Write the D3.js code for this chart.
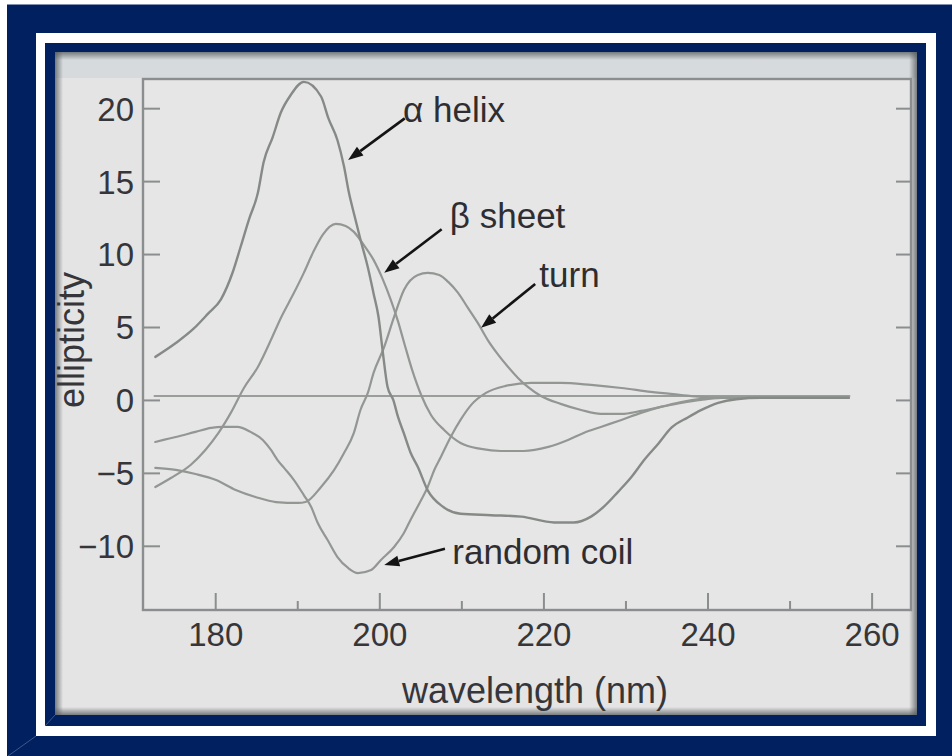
<!DOCTYPE html>
<html>
<head>
<meta charset="utf-8">
<script src="https://cdn.jsdelivr.net/npm/d3@7"></script>
<style>
  html, body { margin: 0; padding: 0; background: #ffffff; }
  svg { display: block; }
</style>
</head>
<body>
<svg id="chart" width="952" height="756"></svg>
<script>
// ---- data: circular dichroism spectra (wavelength nm, ellipticity) ----
const xTicks = [180, 200, 220, 240, 260];
const xMinorTicks = [190, 210, 230, 250];
const yTicks = [20, 15, 10, 5, 0, -5, -10];

const alphaHelix = [
  [172.7, 2.95], [175.2, 3.9], [177.4, 4.9], [179.1, 5.9], [180.7, 6.9], [182.1, 8.7],
  [183.1, 10.5], [184.1, 12.35], [185.2, 14.2], [185.9, 16.3], [187.0, 18.0], [188.0, 19.7],
  [189.2, 20.9], [190.8, 21.8], [192.9, 20.8], [193.8, 19.3], [194.9, 17.8], [195.7, 16.0],
  [196.3, 14.2], [196.9, 12.8], [197.7, 11.0], [198.6, 9.1], [199.3, 7.3], [199.9, 5.7],
  [200.4, 3.4], [201.0, 0.9], [201.7, 0], [202.3, -1.2], [203.0, -2.3], [203.8, -3.6],
  [204.7, -4.6], [205.9, -6.2], [207.7, -7.3], [209.9, -7.8], [213.6, -7.9], [217.3, -8.0],
  [221.3, -8.4], [223.7, -8.4], [225.8, -8.0], [227.4, -7.3], [229.1, -6.3], [230.7, -5.3],
  [232.3, -4.1], [234.0, -3.0], [235.6, -1.9], [237.6, -1.2], [239.2, -0.7], [241.3, -0.2],
  [243.5, 0.05], [246.5, 0.15], [257.2, 0.15]
];

const betaSheet = [
  [172.7, -5.97], [174.6, -5.35], [177.0, -4.46], [178.8, -3.43], [180.4, -2.26], [181.9, -0.89],
  [183.5, 0.82], [185.2, 2.26], [186.8, 4.12], [188.0, 5.62], [189.6, 7.34], [190.8, 8.71],
  [191.9, 10.08], [193.1, 11.32], [194.7, 12.07], [195.9, 11.93], [196.9, 11.52], [198.1, 10.63],
  [199.3, 9.6], [200.4, 8.3], [201.4, 6.86], [202.3, 5.35], [203.1, 3.77], [204.0, 2.06],
  [205.1, 0.34], [206.3, -1.03], [207.9, -2.06], [209.9, -2.95], [212.4, -3.36], [214.8, -3.5],
  [217.6, -3.5], [220.6, -3.22], [223.0, -2.74], [224.9, -2.26], [227.0, -1.85], [229.5, -1.37],
  [231.9, -0.89], [234.3, -0.48], [236.8, -0.14], [239.2, 0.07], [241.7, 0.14], [257.2, 0.14]
];

const turn = [
  [172.7, -4.66], [175.2, -4.8], [177.6, -5.08], [180.1, -5.49], [182.5, -6.17], [184.9, -6.65],
  [187.4, -7.0], [190.1, -7.06], [191.0, -7.0], [192.9, -5.97], [194.5, -4.8], [195.7, -3.64],
  [196.9, -2.26], [197.7, -0.69], [198.6, 0.48], [199.3, 1.85], [200.6, 3.64], [201.8, 5.69],
  [203.0, 7.54], [204.7, 8.57], [205.9, 8.71], [207.3, 8.57], [208.4, 8.09], [209.6, 7.34],
  [210.8, 6.31], [212.0, 5.28], [213.2, 4.12], [214.5, 3.09], [215.7, 2.26], [216.9, 1.51],
  [218.1, 0.89], [219.7, 0.27], [222.1, -0.27], [224.6, -0.69], [227.0, -0.96], [229.5, -0.96],
  [231.9, -0.75], [234.3, -0.48], [236.8, -0.21], [239.2, 0.0], [241.7, 0.14], [257.2, 0.14]
];

const randomCoil = [
  [172.7, -2.88], [173.7, -2.74], [175.2, -2.54], [177.6, -2.19], [179.5, -1.92], [180.9, -1.85],
  [182.7, -1.85], [184.3, -2.19], [185.8, -2.74], [186.8, -3.43], [187.6, -4.12], [188.4, -4.66],
  [189.6, -5.49], [190.8, -6.52], [191.7, -7.34], [192.5, -8.44], [193.7, -9.6], [194.9, -10.77],
  [196.2, -11.52], [197.4, -11.87], [199.0, -11.66], [200.2, -10.97], [201.8, -10.08], [203.0, -9.12],
  [203.8, -8.23], [205.1, -6.86], [205.9, -5.97], [206.7, -4.8], [207.5, -3.91], [208.7, -2.54],
  [209.9, -1.37], [211.2, -0.34], [213.0, 0.48], [215.4, 0.96], [218.5, 1.17], [222.1, 1.17],
  [225.8, 1.03], [229.5, 0.82], [233.1, 0.55], [236.8, 0.34], [239.2, 0.21], [241.7, 0.14], [257.2, 0.14]
];

const baseline = [[172.6, 0.27], [257.3, 0.27]];

// label text, where it sits (wavelength, ellipticity) and where its arrow points
const annotations = [
  { text: "α helix",     at: [202.9, 19.06],  tail: [203.1, 19.3],  tip: [196.2, 16.45] },
  { text: "β sheet",     at: [208.6, 11.79],  tail: [207.6, 11.7],  tip: [200.6, 8.71] },
  { text: "turn",        at: [219.5, 7.75],   tail: [219.0, 7.95],  tip: [212.4, 4.94] },
  { text: "random coil", at: [208.9, -11.24], tail: [208.0, -10.2], tip: [200.6, -11.31] }
];

// ---- drawing ----
const svg = d3.select("#chart");
const W = 952, H = 756;
const FONT = "'Liberation Sans', Arial, Helvetica, sans-serif";

const defs = svg.append("defs");
function edgeGradient(id, x1, y1, x2, y2) {
  const g = defs.append("linearGradient").attr("id", id)
    .attr("x1", x1).attr("y1", y1).attr("x2", x2).attr("y2", y2);
  g.append("stop").attr("offset", "0%").attr("stop-color", "#555a5e").attr("stop-opacity", 0.75);
  g.append("stop").attr("offset", "100%").attr("stop-color", "#555a5e").attr("stop-opacity", 0);
}
edgeGradient("shTop", 0, 0, 0, 1);
edgeGradient("shBottom", 0, 1, 0, 0);
edgeGradient("shLeft", 0, 0, 1, 0);
edgeGradient("shRight", 1, 0, 0, 0);

// navy surround and white mat
svg.append("rect").attr("x", 7).attr("y", 4).attr("width", W - 7).attr("height", H - 4).attr("fill", "#00205f");
svg.append("rect").attr("x", 7).attr("y", 4).attr("width", W - 7).attr("height", 1).attr("fill", "#8090b0");
svg.append("rect").attr("x", 36).attr("y", 33).attr("width", 900).attr("height", 703).attr("fill", "#ffffff");
svg.append("rect").attr("x", 45).attr("y", 43).attr("width", 881).attr("height", 683).attr("fill", "#00205f");

// mitred corner highlights
const bevel = svg.append("g").attr("stroke", "#5a6f9c").attr("stroke-width", 1).attr("opacity", 0.7);
bevel.append("line").attr("x1", 36).attr("y1", 736).attr("x2", 8).attr("y2", 756);
bevel.append("line").attr("x1", 55).attr("y1", 715).attr("x2", 45).attr("y2", 726);

// grey panel with inset shadow
const px0 = 55, py0 = 52, px1 = 917, py1 = 715;
svg.append("rect").attr("x", px0).attr("y", py0).attr("width", px1 - px0).attr("height", py1 - py0).attr("fill", "#e4e4e4");
svg.append("rect").attr("x", px0).attr("y", py0).attr("width", px1 - px0).attr("height", 26).attr("fill", "#d6dadd");
svg.append("rect").attr("x", px0).attr("y", py0).attr("width", px1 - px0).attr("height", 8).attr("fill", "url(#shTop)");
svg.append("rect").attr("x", px0).attr("y", py1 - 8).attr("width", px1 - px0).attr("height", 8).attr("fill", "url(#shBottom)");
svg.append("rect").attr("x", px0).attr("y", py0).attr("width", 8).attr("height", py1 - py0).attr("fill", "url(#shLeft)");
svg.append("rect").attr("x", px1 - 8).attr("y", py0).attr("width", 8).attr("height", py1 - py0).attr("fill", "url(#shRight)");

// plot area
const L = 143, R = 911, T = 79, B = 610;
svg.append("rect").attr("x", L).attr("y", T).attr("width", R - L).attr("height", B - T).attr("fill", "#e6e6e6");

const x = d3.scaleLinear().domain([171.2, 264.8]).range([L, R]);
const y = d3.scaleLinear().domain([-14.4, 22.0]).range([B, T]);

const AXIS = "#8b8e8e";

// curves
const line = d3.line().x(d => x(d[0])).y(d => y(d[1])).curve(d3.curveMonotoneX);
const curves = svg.append("g").attr("fill", "none").attr("stroke-linejoin", "round").attr("stroke-linecap", "round");
curves.append("path").datum(baseline).attr("d", line).attr("stroke", "#9a9e9b").attr("stroke-width", 2);
[randomCoil, turn, betaSheet].forEach(s =>
  curves.append("path").datum(s).attr("d", line).attr("stroke", "#939794").attr("stroke-width", 2.2));
curves.append("path").datum(alphaHelix).attr("d", line).attr("stroke", "#868a87").attr("stroke-width", 2.4);

// axes (ticks point inward)
function styleAxis(g) {
  g.select(".domain").remove();
  g.selectAll(".tick line").attr("stroke", AXIS).attr("stroke-width", 2);
  g.selectAll(".tick text").attr("fill", "#36363a").style("font-family", FONT);
}
svg.append("g").attr("transform", `translate(0,${B})`)
  .call(d3.axisBottom(x).tickValues(xTicks).tickSizeInner(-17).tickSizeOuter(0).tickPadding(12.6))
  .call(styleAxis)
  .call(g => g.selectAll(".tick text").style("font-size", "33px"));
svg.append("g").attr("transform", `translate(0,${B})`)
  .call(d3.axisBottom(x).tickValues(xMinorTicks).tickSizeInner(-9).tickSizeOuter(0).tickFormat(""))
  .call(styleAxis);
svg.append("g").attr("transform", `translate(${L},0)`)
  .call(d3.axisLeft(y).tickValues(yTicks).tickSizeInner(-17).tickSizeOuter(0).tickPadding(9))
  .call(styleAxis)
  .call(g => g.selectAll(".tick text").style("font-size", "33px").attr("dy", "0.36em"));
svg.append("g").attr("transform", `translate(${R},0)`)
  .call(d3.axisRight(y).tickValues(yTicks).tickSizeInner(-15).tickSizeOuter(0).tickFormat(""))
  .call(styleAxis);

// frame
svg.append("rect").attr("x", L).attr("y", T).attr("width", R - L).attr("height", B - T)
  .attr("fill", "none").attr("stroke", AXIS).attr("stroke-width", 2.4);

// axis titles
svg.append("text").attr("x", (L + R) / 2 + 8).attr("y", 703)
  .attr("text-anchor", "middle").attr("fill", "#36363a")
  .style("font-family", FONT).style("font-size", "36px").text("wavelength (nm)");
svg.append("text").attr("transform", "translate(84,340) rotate(-90)")
  .attr("text-anchor", "middle").attr("fill", "#36363a")
  .style("font-family", FONT).style("font-size", "36px").text("ellipticity");

// labels with arrows
const ann = svg.append("g");
annotations.forEach(a => {
  const tx = x(a.tail[0]), ty = y(a.tail[1]);
  const hx = x(a.tip[0]), hy = y(a.tip[1]);
  const dx = hx - tx, dy = hy - ty, len = Math.hypot(dx, dy);
  const ux = dx / len, uy = dy / len;
  const headLen = 15, headHalf = 5.5;
  const bx = hx - ux * headLen, by = hy - uy * headLen;
  ann.append("line").attr("x1", tx).attr("y1", ty).attr("x2", bx).attr("y2", by)
    .attr("stroke", "#141414").attr("stroke-width", 2.6);
  ann.append("path")
    .attr("d", `M${hx},${hy}L${bx - uy * headHalf},${by + ux * headHalf}L${bx + uy * headHalf},${by - ux * headHalf}Z`)
    .attr("fill", "#141414");
  ann.append("text").attr("x", x(a.at[0])).attr("y", y(a.at[1]))
    .attr("fill", "#2e2e32").style("font-family", FONT).style("font-size", "35px").text(a.text);
});
</script>
</body>
</html>
